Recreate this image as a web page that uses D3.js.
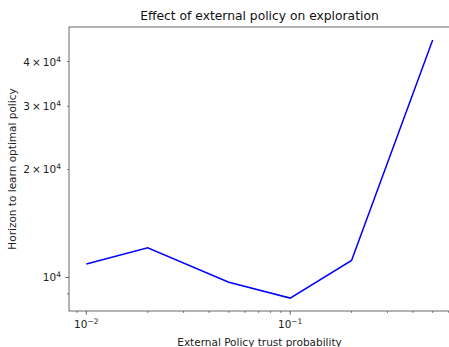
<!DOCTYPE html>
<html>
<head>
<meta charset="utf-8">
<script src="https://cdn.jsdelivr.net/npm/d3@7"></script>
<style>
  body { margin: 0; background: #fff; }
  svg { display: block; font-family: "DejaVu Sans", sans-serif; }
</style>
</head>
<body>
<div id="chart"></div>
<script>
// data
const trustProb = [0.01, 0.02, 0.05, 0.1, 0.2, 0.5];
const horizon = [10900, 12100, 9700, 8760, 11150, 45950];

const xMajorTicks = [0.01, 0.1];
const yMajorTicks = [10000];
const yLabelledMinor = [20000, 30000, 40000];

const width = 449, height = 347;
const margin = {left: 69, top: 27, right: -1, bottom: 36};

// matplotlib-ish 5% padding in log space
function padLog(ext) {
    const a = Math.log10(ext[0]), b = Math.log10(ext[1]);
    const p = (b - a) * 0.05;
    return [Math.pow(10, a - p), Math.pow(10, b + p)];
}

const x = d3.scaleLog()
    .domain(padLog(d3.extent(trustProb)))
    .range([margin.left, width - margin.right]);
const y = d3.scaleLog()
    .domain(padLog(d3.extent(horizon)))
    .range([height - margin.bottom, margin.top]);

const svg = d3.select("#chart").append("svg")
    .attr("width", width)
    .attr("height", height);

// minor ticks: 2..9 times each decade, inside the domain
function minorTicks(scale) {
    const [lo, hi] = scale.domain();
    const out = [];
    for (let e = Math.floor(Math.log10(lo)); e <= Math.ceil(Math.log10(hi)); e++) {
        for (let k = 2; k <= 9; k++) {
            const v = k * Math.pow(10, e);
            if (v >= lo && v <= hi) out.push(v);
        }
    }
    return out;
}

const tickColor = "#333";
const fs = 10.5;

// x ticks
const xAxis = svg.append("g");
xAxis.selectAll(".xminor").data(minorTicks(x)).enter().append("line")
    .attr("x1", d => x(d)).attr("x2", d => x(d))
    .attr("y1", y.range()[0]).attr("y2", y.range()[0] + 2)
    .attr("stroke", tickColor).attr("stroke-width", 0.6);
xAxis.selectAll(".xmajor").data(xMajorTicks).enter().append("line")
    .attr("x1", d => x(d)).attr("x2", d => x(d))
    .attr("y1", y.range()[0]).attr("y2", y.range()[0] + 3.5)
    .attr("stroke", tickColor).attr("stroke-width", 0.8);
xMajorTicks.forEach(d => {
    const t = xAxis.append("text")
        .attr("x", x(d)).attr("y", y.range()[0] + 17)
        .attr("text-anchor", "middle")
        .attr("font-size", fs).attr("fill", "#222");
    t.append("tspan").text("10");
    t.append("tspan").attr("dy", -4).attr("font-size", 7.5).text("\u2212" + Math.abs(Math.round(Math.log10(d))));
});

// y ticks
const yAxis = svg.append("g");
const yMinor = minorTicks(y);
yAxis.selectAll(".yminor").data(yMinor).enter().append("line")
    .attr("x1", margin.left - 2).attr("x2", margin.left)
    .attr("y1", d => y(d)).attr("y2", d => y(d))
    .attr("stroke", tickColor).attr("stroke-width", 0.6);
yAxis.selectAll(".ymajor").data(yMajorTicks).enter().append("line")
    .attr("x1", margin.left - 3.5).attr("x2", margin.left)
    .attr("y1", d => y(d)).attr("y2", d => y(d))
    .attr("stroke", tickColor).attr("stroke-width", 0.8);

function yLabel(d, mant) {
    const t = yAxis.append("text")
        .attr("x", margin.left - 8).attr("y", y(d) + 4)
        .attr("text-anchor", "end")
        .attr("font-size", fs).attr("fill", "#222");
    if (mant) t.append("tspan").text(mant + "\u2009\u00d7\u2009");
    t.append("tspan").text("10");
    t.append("tspan").attr("dy", -4).attr("font-size", 7.5).text("4");
}
yMajorTicks.forEach(d => yLabel(d, null));
yLabelledMinor.forEach(d => yLabel(d, Math.round(d / 10000)));

// the line
const line = d3.line()
    .x((d, i) => x(trustProb[i]))
    .y(d => y(d));
svg.append("path")
    .datum(horizon)
    .attr("d", line)
    .attr("fill", "none")
    .attr("stroke", "#0000ff")
    .attr("stroke-width", 1.5);

// frame (right edge falls off the picture)
svg.append("rect")
    .attr("x", margin.left).attr("y", margin.top)
    .attr("width", width - margin.right - margin.left)
    .attr("height", height - margin.bottom - margin.top)
    .attr("fill", "none")
    .attr("stroke", "#444").attr("stroke-width", 0.8);

// titles
const cx = (x.range()[0] + x.range()[1]) / 2;
svg.append("text")
    .attr("x", cx).attr("y", 20)
    .attr("text-anchor", "middle")
    .attr("font-size", 12.3).attr("fill", "#111")
    .text("Effect of external policy on exploration");
svg.append("text")
    .attr("x", cx).attr("y", 346)
    .attr("text-anchor", "middle")
    .attr("font-size", fs).attr("fill", "#222")
    .text("External Policy trust probability");
svg.append("text")
    .attr("transform", `translate(16,${(y.range()[0] + y.range()[1]) / 2}) rotate(-90)`)
    .attr("text-anchor", "middle")
    .attr("font-size", fs).attr("fill", "#222")
    .text("Horizon to learn optimal policy");
</script>
</body>
</html>
